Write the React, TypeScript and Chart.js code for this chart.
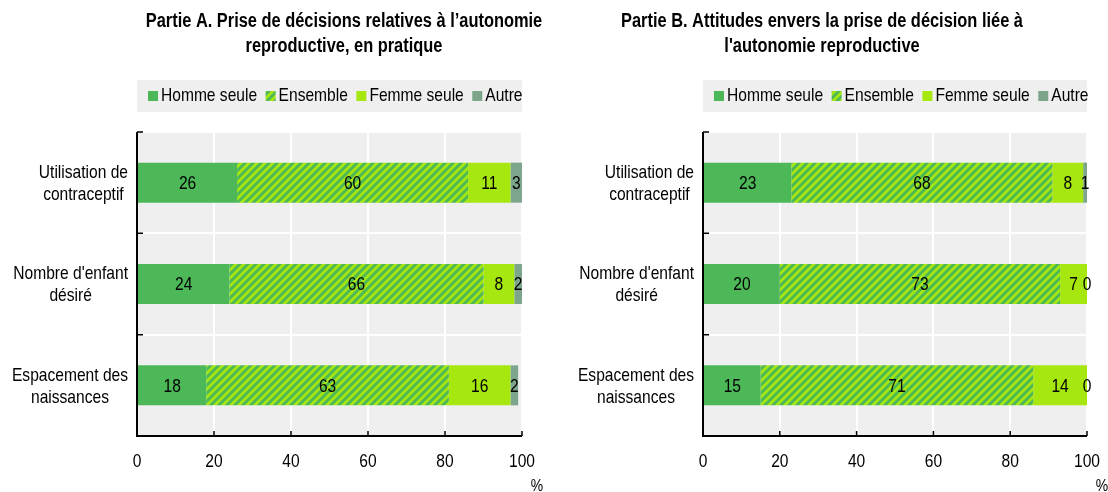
import React, { useEffect, useRef } from "react";
import { Chart, registerables } from "chart.js";

Chart.register(...registerables);

// ---------- data ----------
const categories: string[][] = [
  ["Utilisation de", "contraceptif"],
  ["Nombre d'enfant", "désiré"],
  ["Espacement des", "naissances"],
];
const seriesNames = ["Homme seule", "Ensemble", "Femme seule", "Autre"];

const partAHomme = [26, 24, 18];
const partAEnsemble = [60, 66, 63];
const partAFemme = [11, 8, 16];
const partAAutre = [3, 2, 2];

const partBHomme = [23, 20, 15];
const partBEnsemble = [68, 73, 71];
const partBFemme = [8, 7, 14];
const partBAutre = [1, 0, 0];

const xTicks = [0, 20, 40, 60, 80, 100];
const unitLabel = "%";

const titleA = ["Partie A. Prise de décisions relatives à l’autonomie", "reproductive, en pratique"];
const titleB = ["Partie B. Attitudes envers la prise de décision liée à", "l'autonomie reproductive"];

// ---------- styles ----------
const GREEN = "rgb(76,184,88)";
const LIME = "rgb(166,231,15)";
const GREY_GREEN = "rgb(125,165,140)";
const PLOT_BG = "#efefef";
const NARROW = '"Liberation Sans Narrow"';
const WIDE = '"Liberation Sans"';
const TXT_SIZE = 19;
const TITLE_SIZE = 20;
const SQUEEZE = 0.82;

let narrowOK: boolean | null = null;
function checkNarrow(ctx: CanvasRenderingContext2D) {
  if (narrowOK !== null) return narrowOK;
  ctx.save();
  ctx.font = `20px monospace`;
  const a = ctx.measureText("Homme seule Ensemble").width;
  ctx.font = `20px ${NARROW}, monospace`;
  const b = ctx.measureText("Homme seule Ensemble").width;
  ctx.restore();
  narrowOK = Math.abs(a - b) > 0.5;
  return narrowOK;
}

function setFont(ctx: CanvasRenderingContext2D, size: number, bold: boolean) {
  const fam = checkNarrow(ctx) ? NARROW : WIDE;
  ctx.font = `${bold ? "bold " : ""}${size}px ${fam}, Arial, sans-serif`;
}

function measure(ctx: CanvasRenderingContext2D, text: string, size: number, bold = false) {
  ctx.save();
  setFont(ctx, size, bold);
  const w = ctx.measureText(text).width * (narrowOK ? 1 : SQUEEZE);
  ctx.restore();
  return w;
}

function drawText(
  ctx: CanvasRenderingContext2D,
  text: string,
  x: number,
  y: number,
  size: number,
  bold = false,
  align: CanvasTextAlign = "center"
) {
  ctx.save();
  setFont(ctx, size, bold);
  ctx.textAlign = align;
  ctx.textBaseline = "middle";
  ctx.fillStyle = "#000";
  ctx.translate(x, y);
  if (!narrowOK) ctx.scale(SQUEEZE, 1);
  ctx.fillText(text, 0, 0);
  ctx.restore();
}

function makeStripePattern(): CanvasPattern | string {
  const tile = document.createElement("canvas");
  const s = 8;
  tile.width = s;
  tile.height = s;
  const c = tile.getContext("2d");
  if (!c) return LIME;
  c.fillStyle = LIME;
  c.fillRect(0, 0, s, s);
  c.strokeStyle = GREEN;
  c.lineWidth = 2.9;
  c.beginPath();
  c.moveTo(-2, s + 2);
  c.lineTo(s + 2, -2);
  c.moveTo(-2, 2);
  c.lineTo(2, -2);
  c.moveTo(s - 2, s + 2);
  c.lineTo(s + 2, s - 2);
  c.stroke();
  return c.createPattern(tile, "repeat") || LIME;
}

type PanelCfg = {
  left: number;
  yWidth: number;
  padRight: number;
  titleCx: number;
  title: string[];
  values: number[][];
};

function decorPlugin(cfg: PanelCfg) {
  return {
    id: "decor",
    beforeDraw(chart: any) {
      const { ctx, chartArea: a } = chart;
      ctx.save();
      ctx.fillStyle = PLOT_BG;
      ctx.fillRect(a.left, a.top, a.right - a.left, a.bottom - a.top);

      // title
      cfg.title.forEach((t, i) => drawText(ctx, t, cfg.titleCx, 21 + i * 25, TITLE_SIZE, true));

      // legend
      const ly = 80;
      const lh = 32;
      ctx.fillStyle = PLOT_BG;
      ctx.fillRect(a.left, ly, a.right - a.left, lh);
      ctx.save();
      ctx.beginPath();
      ctx.rect(a.left, ly, a.right - a.left + 1, lh);
      ctx.clip();
      let x = a.left + 11;
      const cy = ly + lh / 2;
      chart.data.datasets.forEach((ds: any) => {
        ctx.fillStyle = ds.backgroundColor;
        ctx.fillRect(x, cy - 5, 10, 10);
        drawText(ctx, ds.label, x + 13, cy, TXT_SIZE, false, "left");
        x += 13 + measure(ctx, ds.label, TXT_SIZE) + 8.5;
      });
      ctx.restore();
      ctx.restore();
    },
    afterDatasetsDraw(chart: any) {
      const { ctx } = chart;
      chart.data.datasets.forEach((ds: any, di: number) => {
        const meta = chart.getDatasetMeta(di);
        meta.data.forEach((el: any, i: number) => {
          const v = ds.data[i];
          const cx = (el.x + el.base) / 2;
          drawText(ctx, String(v), cx, el.y + 1, TXT_SIZE);
        });
      });
    },
    afterDraw(chart: any) {
      const { ctx, chartArea: a } = chart;
      const xs = chart.scales.x;
      const ys = chart.scales.y;
      ctx.save();
      ctx.strokeStyle = "#000";
      ctx.lineWidth = 2;
      ctx.beginPath();
      ctx.moveTo(a.left, a.top);
      ctx.lineTo(a.left, a.bottom);
      ctx.lineTo(a.right, a.bottom);
      ctx.stroke();
      ctx.lineWidth = 1.5;
      ctx.beginPath();
      xTicks.forEach((v) => {
        const px = xs.getPixelForValue(v);
        ctx.moveTo(px, a.bottom);
        ctx.lineTo(px, a.bottom - 5);
      });
      const n = categories.length;
      const step = ys.getPixelForValue(1) - ys.getPixelForValue(0);
      for (let i = 0; i < n; i++) {
        const by = ys.getPixelForValue(i) - step / 2;
        ctx.moveTo(a.left, by);
        ctx.lineTo(a.left + 6, by);
      }
      ctx.stroke();
      ctx.restore();

      // x tick labels
      xTicks.forEach((v) => {
        drawText(ctx, String(v), xs.getPixelForValue(v), 462, TXT_SIZE);
      });

      // category labels: block right-aligned, lines centred
      categories.forEach((lines, i) => {
        const y = ys.getPixelForValue(i);
        const w = Math.max(...lines.map((l) => measure(ctx, l, TXT_SIZE)));
        const cx = a.left - 9 - w / 2;
        const lh = 22;
        lines.forEach((l, k) => {
          drawText(ctx, l, cx, y + 1 + (k - (lines.length - 1) / 2) * lh, TXT_SIZE);
        });
      });

      // unit
      drawText(ctx, unitLabel, a.right + 15, 486, TXT_SIZE - 2);
    },
  };
}

function Panel({ cfg }: { cfg: PanelCfg }) {
  const ref = useRef<HTMLCanvasElement | null>(null);
  useEffect(() => {
    if (!ref.current) return;
    const stripes = makeStripePattern();
    const colors: any[] = [GREEN, stripes, LIME, GREY_GREEN];
    const chart = new Chart(ref.current, {
      type: "bar",
      data: {
        labels: categories.map((c) => c.join(" ")),
        datasets: seriesNames.map((name, i) => ({
          label: name,
          data: cfg.values[i],
          backgroundColor: colors[i],
          borderWidth: 0,
          categoryPercentage: 1,
          barPercentage: 0.395,
        })),
      },
      options: {
        indexAxis: "y",
        responsive: false,
        animation: false,
        devicePixelRatio: 1,
        layout: { padding: { left: 0, right: cfg.padRight, top: 132, bottom: 0 } },
        plugins: {
          legend: { display: false },
          title: { display: false },
          tooltip: { enabled: false },
        },
        scales: {
          x: {
            stacked: true,
            min: 0,
            max: 100,
            grid: { color: "#ffffff", lineWidth: 2, drawTicks: false },
            border: { display: false },
            ticks: { stepSize: 20, display: false },
            afterFit: (s: any) => {
              s.height = 56;
            },
          },
          y: {
            stacked: true,
            grid: { color: "#ffffff", lineWidth: 2, drawTicks: false, offset: true },
            border: { display: false },
            ticks: { display: false },
            afterFit: (s: any) => {
              s.width = cfg.yWidth;
            },
          },
        },
      } as any,
      plugins: [decorPlugin(cfg) as any],
    });
    return () => chart.destroy();
  }, [cfg]);
  return (
    <canvas
      ref={ref}
      width={554}
      height={492}
      style={{ position: "absolute", left: cfg.left, top: 0, width: 554, height: 492 }}
    />
  );
}

const panelA: PanelCfg = {
  left: 0,
  yWidth: 137,
  padRight: 32,
  titleCx: 344,
  title: titleA,
  values: [partAHomme, partAEnsemble, partAFemme, partAAutre],
};
const panelB: PanelCfg = {
  left: 554,
  yWidth: 149,
  padRight: 21,
  titleCx: 268,
  title: titleB,
  values: [partBHomme, partBEnsemble, partBFemme, partBAutre],
};

export default function App() {
  return (
    <div style={{ position: "fixed", left: 0, top: 0, width: 1108, height: 492, background: "#fff" }}>
      <Panel cfg={panelA} />
      <Panel cfg={panelB} />
    </div>
  );
}
